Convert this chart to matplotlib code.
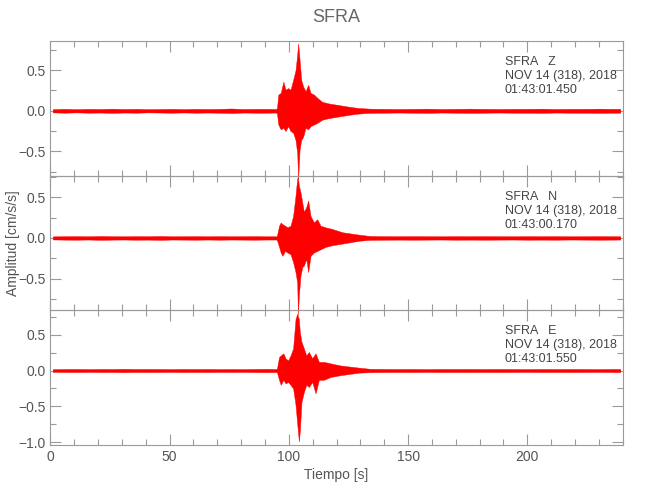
import matplotlib
matplotlib.use("Agg")
import matplotlib.pyplot as plt
from matplotlib.ticker import MultipleLocator
import numpy as np

plt.rcParams['font.family'] = ['Liberation Sans', 'DejaVu Sans']

# Ruido antes y despues del evento (semi-amplitud, cm/s/s)
ruido_pre_t = [1, 6, 11, 16, 21, 26, 31, 36, 41, 46, 51, 56, 61, 66, 71, 76, 81, 86, 91, 94.5]
ruido_post_t = [134, 140, 146, 152, 158, 164, 170, 176, 182, 188, 194, 200, 206, 212, 218, 224, 230, 236, 239]

ruido_pre_z = [0.02, 0.024, 0.02, 0.024, 0.022, 0.026, 0.022, 0.024, 0.02, 0.022,
               0.024, 0.021, 0.024, 0.022, 0.024, 0.028, 0.022, 0.024, 0.024, 0.022]
ruido_post_z = [0.026, 0.024, 0.022, 0.024, 0.026, 0.022, 0.024, 0.026, 0.024, 0.022,
                0.024, 0.024, 0.026, 0.022, 0.024, 0.024, 0.026, 0.024, 0.024]
ruido_pre_n = [0.019, 0.021, 0.022, 0.02, 0.024, 0.021, 0.02, 0.022, 0.021, 0.024,
               0.02, 0.021, 0.022, 0.02, 0.022, 0.02, 0.021, 0.022, 0.02, 0.02]
ruido_post_n = [0.024, 0.022, 0.021, 0.022, 0.021, 0.02, 0.022, 0.021, 0.022, 0.021,
                0.02, 0.022, 0.021, 0.022, 0.02, 0.021, 0.022, 0.021, 0.02]
ruido_pre_e = [0.019, 0.021, 0.022, 0.02, 0.022, 0.021, 0.024, 0.021, 0.022, 0.021,
               0.02, 0.022, 0.021, 0.022, 0.02, 0.021, 0.02, 0.022, 0.024, 0.021]
ruido_post_e = [0.024, 0.022, 0.021, 0.022, 0.02, 0.022, 0.021, 0.022, 0.021, 0.022,
                0.021, 0.02, 0.022, 0.021, 0.022, 0.021, 0.02, 0.022, 0.021]

# Envolvente del evento, componente Z
ev_t_z = [95.0, 95.6, 96.6, 97.7, 98.6, 99.7, 100.7, 101.8, 102.8, 103.5, 103.9, 104.5,
          105.2, 106.0, 107.0, 108.1, 109.1, 110.5, 111.9, 114.0, 116.8, 121.0, 125.2, 129.0]
sup_z = [0.03, 0.20, 0.22, 0.36, 0.26, 0.28, 0.26, 0.38, 0.50, 0.69, 0.83, 0.63,
         0.38, 0.30, 0.24, 0.32, 0.22, 0.20, 0.16, 0.11, 0.09, 0.07, 0.05, 0.035]
inf_z = [-0.03, -0.17, -0.23, -0.21, -0.25, -0.19, -0.25, -0.27, -0.36, -0.52, -0.84, -0.48,
         -0.36, -0.32, -0.21, -0.23, -0.19, -0.17, -0.15, -0.11, -0.09, -0.07, -0.05, -0.035]

# Componente N
ev_t_n = [95.0, 95.9, 96.6, 97.3, 98.4, 99.4, 100.7, 101.8, 102.8, 103.5, 103.8, 104.2, 104.9,
          105.6, 106.3, 107.3, 108.1, 109.1, 110.5, 111.9, 113.3, 115.4, 118.2, 122.4, 129.4]
sup_n = [0.025, 0.15, 0.19, 0.17, 0.15, 0.13, 0.15, 0.27, 0.52, 0.73, 0.75, 0.64, 0.56,
         0.44, 0.32, 0.38, 0.46, 0.27, 0.19, 0.23, 0.15, 0.13, 0.11, 0.07, 0.04]
inf_n = [-0.025, -0.11, -0.18, -0.22, -0.16, -0.18, -0.20, -0.30, -0.42, -0.55, -0.95, -0.71, -0.46,
         -0.36, -0.34, -0.26, -0.42, -0.22, -0.18, -0.16, -0.14, -0.11, -0.09, -0.07, -0.035]

# Componente E
ev_t_e = [95.0, 95.9, 96.6, 97.7, 98.6, 99.7, 100.7, 101.8, 102.8, 103.5, 104.2, 104.6,
          105.3, 106.3, 107.3, 108.4, 109.8, 111.2, 112.6, 114.7, 117.5, 121.7, 129.4]
sup_e = [0.025, 0.19, 0.21, 0.24, 0.17, 0.14, 0.21, 0.31, 0.72, 0.79, 0.72, 0.54,
         0.40, 0.31, 0.21, 0.26, 0.17, 0.24, 0.12, 0.12, 0.10, 0.07, 0.04]
inf_e = [-0.025, -0.13, -0.20, -0.13, -0.18, -0.16, -0.20, -0.25, -0.48, -0.74, -0.99, -0.85,
         -0.44, -0.30, -0.20, -0.23, -0.16, -0.32, -0.13, -0.13, -0.09, -0.065, -0.03]

componentes = ["Z", "N", "E"]
horas = ["01:43:01.450", "01:43:00.170", "01:43:01.550"]
fecha = "NOV 14 (318), 2018"
limites_y = [(-0.80, 0.86), (-0.89, 0.765), (-1.04, 0.84)]

trazas = [
    (ruido_pre_z, ruido_post_z, ev_t_z, sup_z, inf_z),
    (ruido_pre_n, ruido_post_n, ev_t_n, sup_n, inf_n),
    (ruido_pre_e, ruido_post_e, ev_t_e, sup_e, inf_e),
]

gris = "#9a9a9a"
texto = "#555555"

fig = plt.figure(figsize=(6.5, 5), dpi=100)
izq, der, abajo, arriba = 0.0775, 0.958, 0.11, 0.918
alto = (arriba - abajo) / 3

ejes = []
for i, (pre, post, ev_t, sup, inf) in enumerate(trazas):
    ax = fig.add_axes([izq, arriba - (i + 1) * alto, der - izq, alto])
    ax.set_facecolor("none")
    t = np.concatenate([ruido_pre_t, ev_t, ruido_post_t])
    s = np.concatenate([pre, sup, post])
    b = np.concatenate([-np.array(pre), inf, -np.array(post)])
    ax.fill_between(t, b, s, color="#ff0000", lw=0.3, clip_on=False, zorder=3)

    ax.set_xlim(0, 240)
    ax.set_ylim(*limites_y[i])
    ax.xaxis.set_major_locator(MultipleLocator(50))
    ax.xaxis.set_minor_locator(MultipleLocator(10))
    ax.yaxis.set_major_locator(MultipleLocator(0.5))
    ax.yaxis.set_minor_locator(MultipleLocator(0.25))
    ax.tick_params(which="both", direction="in", top=True, right=True,
                   color=gris, labelcolor=texto, labelsize=10, width=0.8)
    ax.tick_params(which="major", length=8)
    ax.tick_params(which="minor", length=4.5)
    ax.yaxis.set_major_formatter(lambda v, p: f"{v:.1f}".replace("-", "\u2212"))
    for sp in ax.spines.values():
        sp.set_color(gris)
        sp.set_linewidth(0.8)
    if i < 2:
        ax.tick_params(labelbottom=False)

    ax.text(0.794, 0.845, f"SFRA   {componentes[i]}", transform=ax.transAxes,
            va="center", ha="left", fontsize=9, color="#444444")
    ax.text(0.794, 0.741, fecha, transform=ax.transAxes,
            va="center", ha="left", fontsize=9, color="#444444")
    ax.text(0.794, 0.637, horas[i], transform=ax.transAxes,
            va="center", ha="left", fontsize=9, color="#444444")
    ejes.append(ax)

ejes[2].set_xlabel("Tiempo [s]", fontsize=10, color=texto, labelpad=3)
fig.text(0.02, (abajo + arriba) / 2, "Amplitud [cm/s/s]", rotation=90,
         va="center", ha="center", fontsize=10, color=texto)
fig.text((izq + der) / 2, 0.965, "SFRA", ha="center", va="center",
         fontsize=13, color="#666666")

fig.savefig("out.png", dpi=100)
